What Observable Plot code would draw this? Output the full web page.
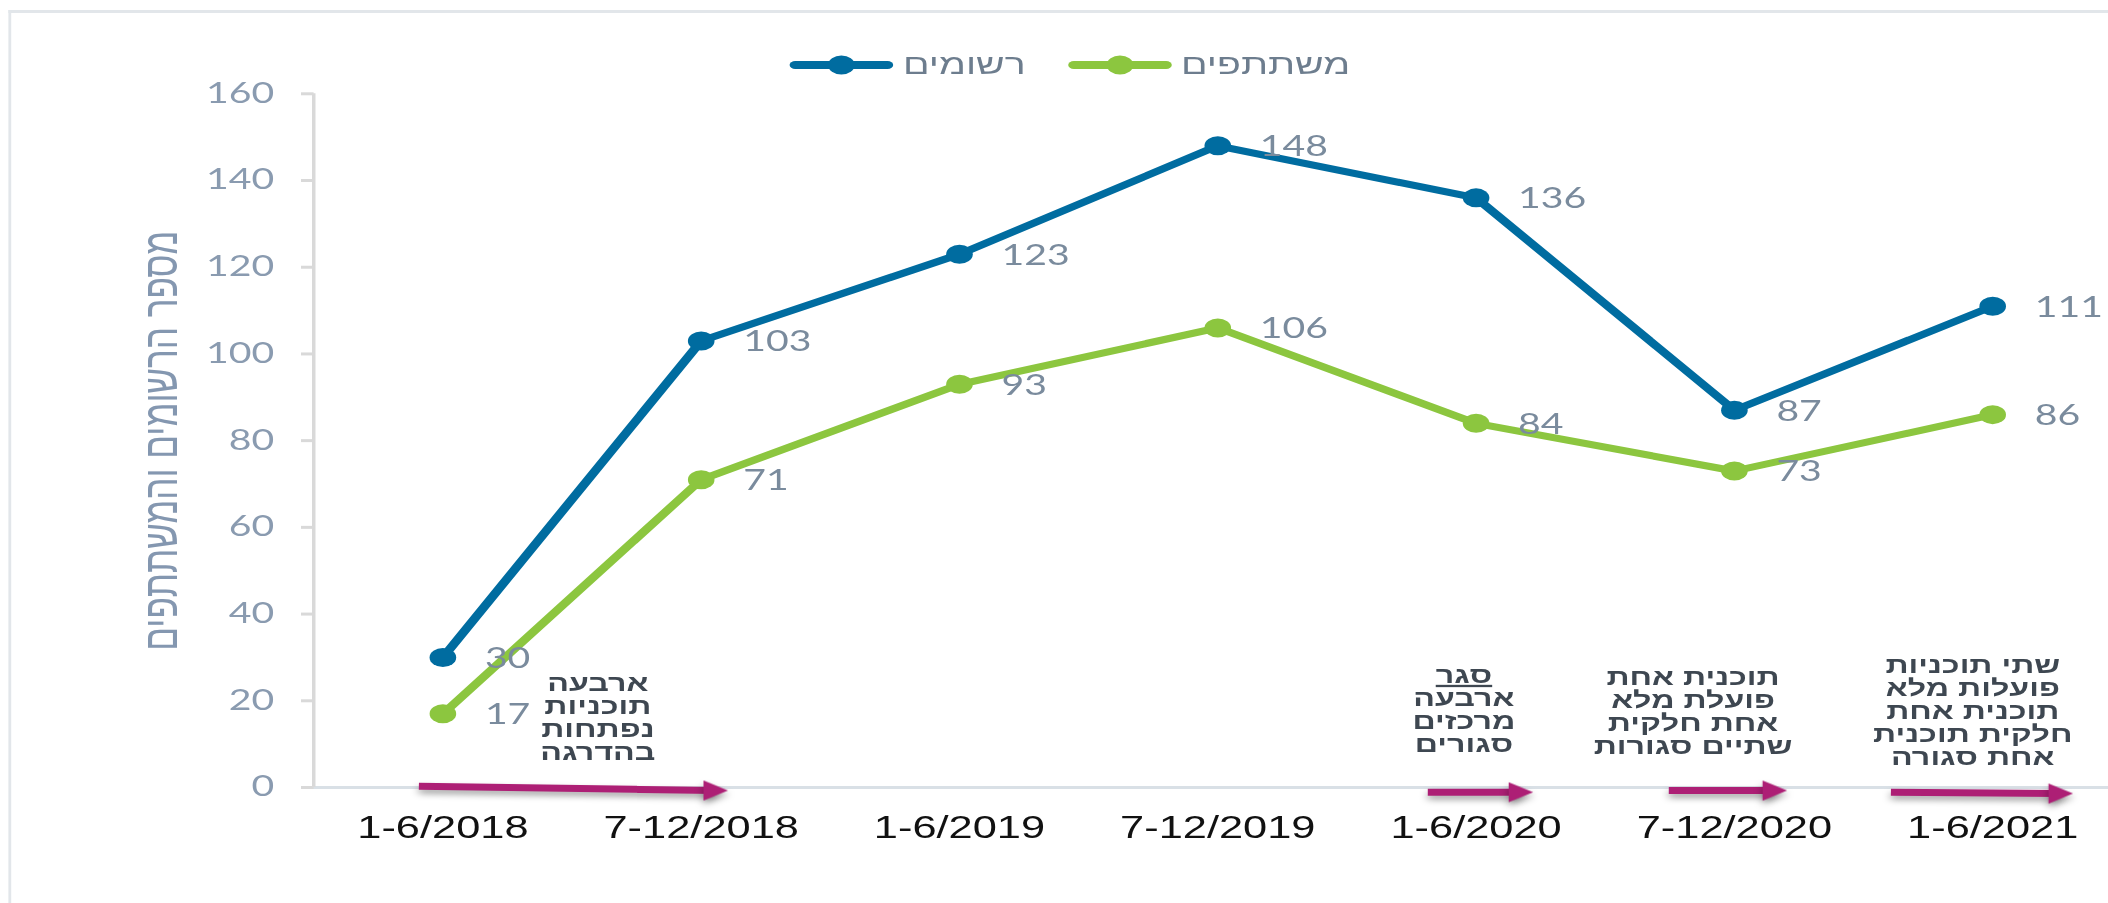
<!DOCTYPE html>
<html><head><meta charset="utf-8">
<script src="https://cdn.jsdelivr.net/npm/d3@7"></script>
<script src="https://cdn.jsdelivr.net/npm/@observablehq/plot@0.6"></script>
<style>
html,body{margin:0;padding:0;background:#fff;overflow:hidden;width:2108px;height:903px}
#wrap{position:relative;width:1506px;height:903px;transform:scaleX(1.4);transform-origin:0 0}
#frame{position:absolute;left:6px;top:10px;width:1600px;height:1000px;border-left:2.5px solid #e2e6ea;border-top:3px solid #e2e6ea;box-sizing:border-box}
#legend{position:relative;height:80px}
#legend .items{position:absolute;left:564px;top:49px;height:32px;display:flex;align-items:center;font-family:"Liberation Sans",Arial,sans-serif;font-size:28px;color:#6d7d8e}
.item{display:flex;align-items:center;margin-right:30px}
.item span{margin-left:7px;line-height:32px}
#chart svg{display:block}
</style></head>
<body>
<div id="wrap"><div id="frame"></div><div id="legend"><div class="items"></div></div><div id="chart"></div></div>
<script>
// ---- data ----
const periods = ["1-6/2018", "7-12/2018", "1-6/2019", "7-12/2019", "1-6/2020", "7-12/2020", "1-6/2021"];
const registered = [30, 103, 123, 148, 136, 87, 111];
const participants = [17, 71, 93, 106, 84, 73, 86];
const seriesNames = ["רשומים", "משתתפים"];
const seriesColors = ["#006ca0", "#8cc63f"];
const yTicks = [0, 20, 40, 60, 80, 100, 120, 140, 160];
const yTitle = "מספר הרשומים והמשתתפים";
// annotations (x in period index units, y in value units)
const notes = [
  "ארבעה\nתוכניות\nנפתחות\nבהדרגה",
  "סגר\nארבעה\nמרכזים\nסגורים",
  "תוכנית אחת\nפועלת מלא\nאחת חלקית\nשתיים סגורות",
  "שתי תוכניות\nפועלות מלא\nתוכנית אחת\nחלקית תוכנית\nאחת סגורה"
];
const noteX = [0.6, 3.953, 4.84, 5.923];
const noteY = [15.9, 17.8, 17.3, 17.5];
const arrowFrom = [-0.093, 3.813, 4.746, 5.606];
const arrowTo = [1.103, 4.22, 5.203, 6.31];
const arrowYFrom = [0.3, -1.1, -0.7, -1.1];
const arrowYTo = [-0.7, -1.1, -0.7, -1.4];
const arrowColor = "#ad1f75";

// ---- build tables ----
const rows = [
  ...registered.map((v, i) => ({i, value: v, series: seriesNames[0]})),
  ...participants.map((v, i) => ({i, value: v, series: seriesNames[1]}))
];
const noteRows = notes.map((t, k) => ({text: t, x: noteX[k], y: noteY[k]}));
const arrows = arrowFrom.map((x1, k) => ({x1, x2: arrowTo[k], y1: arrowYFrom[k], y2: arrowYTo[k]}));

// ---- legend ----
const items = document.querySelector("#legend .items");
seriesNames.forEach((name, k) => {
  const it = document.createElement("div");
  it.className = "item";
  it.innerHTML = `<svg width="74" height="22" style="display:block;overflow:visible"><line x1="4" x2="70" y1="11" y2="11" stroke="${seriesColors[k]}" stroke-width="8" stroke-linecap="round"/><circle cx="37" cy="11" r="9.5" fill="${seriesColors[k]}"/></svg><span>${name}</span>`;
  items.appendChild(it);
});

// ---- chart ----
const W = 1506, H = 823;
const chart = Plot.plot({
  width: W,
  height: H,
  marginTop: 13.3,
  marginBottom: 116,
  marginLeft: 224,
  marginRight: 0,
  style: {background: "transparent", overflow: "visible"},
  x: {type: "linear", domain: [-0.5, 6.5], range: [223.6, 1515.1]},
  y: {domain: [0, 160]},
  color: {domain: seriesNames, range: seriesColors},
  marks: [
    Plot.ruleY([0], {x1: -0.5, x2: 6.5, stroke: "#d9e0e6", strokeWidth: 3}),
    Plot.ruleX([-0.5], {y1: 0, y2: 160, stroke: "#d9d9d9", strokeWidth: 2.5}),
    Plot.axisY({ticks: yTicks, tickSize: 9, tickPadding: 19.6, stroke: "#d9d9d9", strokeWidth: 3,
      fill: "#8a9bb0", fontSize: 28, fontFamily: "Lato, 'Open Sans', sans-serif", label: null}),
    Plot.axisX({ticks: periods.map((_, i) => i), tickFormat: i => periods[i], tickSize: 0, tickPadding: 28,
      fill: "#111", fontSize: 31, fontFamily: "'Liberation Sans', Arial, sans-serif", label: null}),
    Plot.text([yTitle], {frameAnchor: "left", rotate: -90, dx: -109.4, textAnchor: "middle", lineAnchor: "middle",
      fontSize: 35, fill: "#8497b0", fontFamily: "'Liberation Sans', Arial, sans-serif"}),
    Plot.link(arrows, {x1: "x1", x2: d => d.x2 - 0.05, y1: "y1", y2: "y2", stroke: arrowColor, strokeWidth: 7, ariaDescription: "arrow"}),
    Plot.dot(arrows, {x: "x2", y: "y2", symbol: "triangle", rotate: 90, r: 7.5, fill: arrowColor, dx: -11.5, ariaDescription: "arrow"}),
    Plot.line(rows, {x: "i", y: "value", z: "series", stroke: "series", strokeWidth: 7}),
    Plot.dot(rows, {x: "i", y: "value", fill: "series", r: 9.5}),
    Plot.text(rows, {x: "i", y: "value", text: d => String(d.value), dx: 30, dy: 1.5, textAnchor: "start",
      fill: "#7a8b9d", fontSize: 28, fontFamily: "Lato, 'Open Sans', sans-serif"}),
    Plot.text(noteRows, {x: "x", y: "y", text: "text", textAnchor: "middle", lineAnchor: "middle", lineHeight: 1.0,
      fontSize: 23, fontWeight: "bold", fill: "#3e4751", fontFamily: "'Liberation Sans', Arial, sans-serif", ariaDescription: "notes"})
  ]
});
document.getElementById("chart").appendChild(chart);

chart.querySelectorAll('[aria-description="arrow"]').forEach(g => g.style.filter = "drop-shadow(0px 4px 3px rgba(0,0,0,0.35))");
const noteTexts = chart.querySelectorAll('[aria-description="notes"] text');
if (noteTexts[1]) {
  const t = noteTexts[1].querySelector("tspan");
  if (t) t.style.textDecoration = "underline";
}
</script>
</body></html>
